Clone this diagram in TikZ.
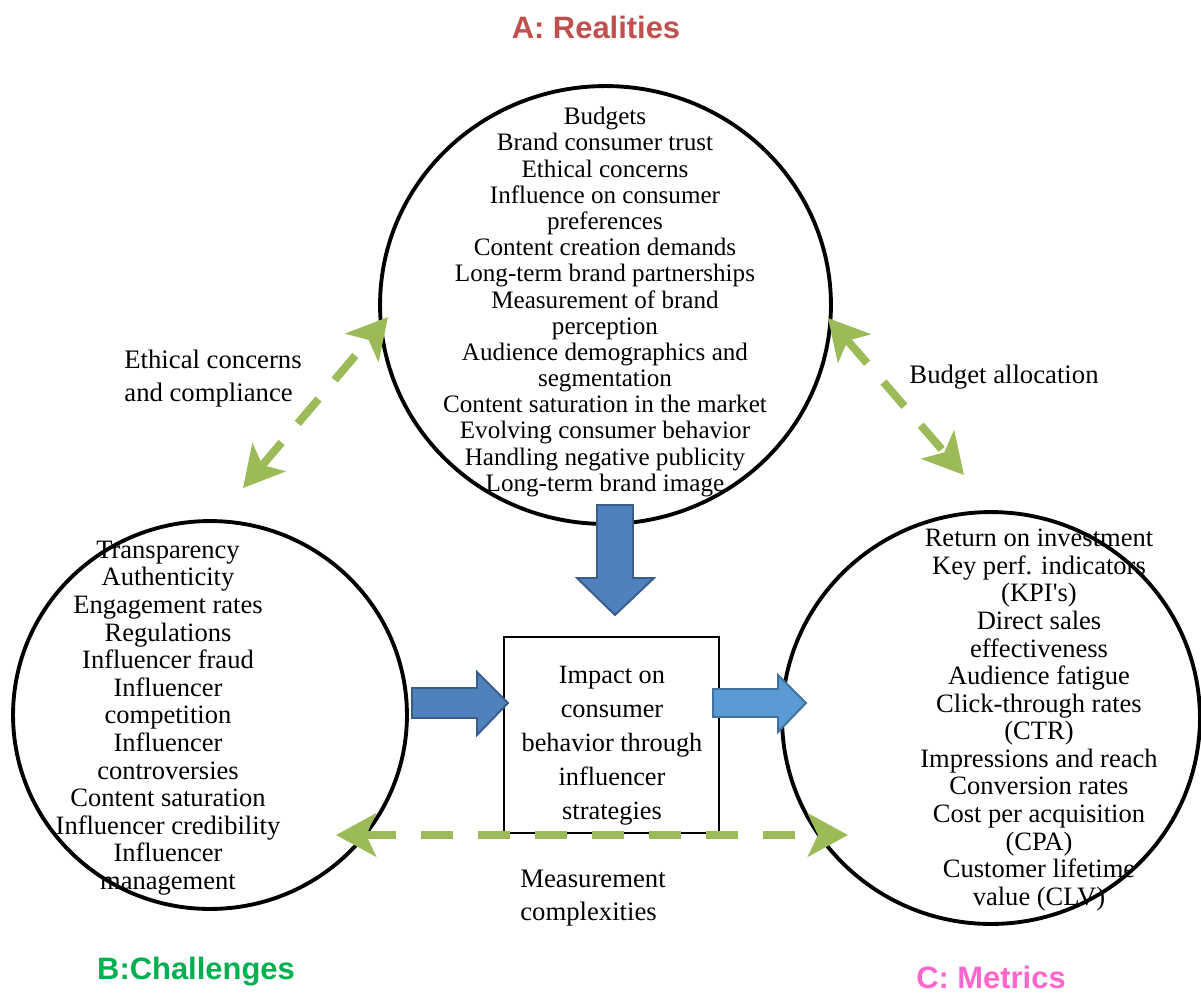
\documentclass[tikz,border=0pt]{standalone}
\usepackage{fontspec}
\setmainfont{Liberation Serif}
\newfontfamily\headfont{Liberation Sans}
\usetikzlibrary{shapes.geometric,arrows.meta}
\definecolor{realred}{HTML}{C0504D}
\definecolor{challgreen}{HTML}{00B050}
\definecolor{metricpink}{HTML}{FF66CC}
\definecolor{linkgreen}{HTML}{9BBB59}
\definecolor{darkblue}{HTML}{4F81BD}
\definecolor{darkblueline}{HTML}{385D8A}
\definecolor{lightblue}{HTML}{5B9BD5}
\definecolor{lightblueline}{HTML}{41719C}
\tikzset{
  ring/.style={ellipse, draw, line width=2.2pt, inner sep=0pt},
  itemsA/.style={align=center, inner sep=0pt, font=\fontsize{14.3}{14.9}\selectfont},
  itemsBC/.style={align=center, inner sep=0pt, font=\fontsize{15.1}{15.7}\selectfont},
  linklabel/.style={align=left, inner sep=0pt, font=\fontsize{15.2}{18.8}\selectfont},
  heading/.style={inner sep=0pt, font=\headfont\bfseries\fontsize{17.6}{20}\selectfont},
  greenlink/.style={draw=linkgreen, line width=0.16cm, dash pattern=on 0.64cm off 0.5cm,
    >={Stealth[length=0.8cm, width=0.86cm, inset=0.2cm]}, <->},
  blockdark/.style={fill=darkblue, draw=darkblueline, line width=1.1pt, line join=miter},
  blocklight/.style={fill=lightblue, draw=lightblueline, line width=1.1pt, line join=miter}
}
\begin{document}
\begin{tikzpicture}[x=0.02cm, y=-0.02cm]
\useasboundingbox (0,0) rectangle (1201,992);
% circles
\node[ring, minimum width=9.02cm, minimum height=8.76cm] (realA) at (605.5,305){};
\node[ring, minimum width=7.88cm, minimum height=7.76cm] (challB) at (210,715){};
\node[ring, minimum width=8.36cm, minimum height=8.24cm] (metricC) at (991,718){};
\node[draw, line width=1.1pt, minimum width=4.3cm, minimum height=3.92cm] (impact) at (611.5,735){};
% circle contents
\node[itemsA] (realtxt) at (605,302){Budgets\\Brand consumer trust\\Ethical concerns\\Influence on consumer\\preferences\\Content creation demands\\Long-term brand partnerships\\Measurement of brand\\perception\\Audience demographics and\\segmentation\\Content saturation in the market\\Evolving consumer behavior\\Handling negative publicity\\Long-term brand image};
\node[itemsBC] (challtxt) at (168,718){Transparency\\Authenticity\\Engagement rates\\Regulations\\Influencer fraud\\Influencer\\competition\\Influencer\\controversies\\Content saturation\\Influencer credibility\\Influencer\\management};
\node[itemsBC] (metrictxt) at (1039,720){Return on investment\\Key perf. indicators\\(KPI\textquotesingle s)\\Direct sales\\effectiveness\\Audience fatigue\\Click-through rates\\(CTR)\\Impressions and reach\\Conversion rates\\Cost per acquisition\\(CPA)\\Customer lifetime\\value (CLV)};
\node[align=center, inner sep=0pt, font=\fontsize{15}{19.3}\selectfont] (impacttxt) at (612,746){Impact on\\consumer\\behavior through\\influencer\\strategies};
% block arrows
\draw[blockdark] (597,505) -- (633,505) -- (633,578) -- (654,578) -- (615,615) -- (577,578) -- (597,578) -- cycle;
\draw[blockdark] (412,688) -- (477,688) -- (477,672) -- (508,703) -- (477,735) -- (477,718) -- (412,718) -- cycle;
\draw[blocklight] (713,689) -- (778,689) -- (778,675) -- (806,703) -- (778,732) -- (778,717) -- (713,717) -- cycle;
% green links
\coordinate (ethB) at (243,488);
\coordinate (ethA) at (388,317);
\coordinate (budA) at (828,318);
\coordinate (budC) at (964,475);
\coordinate (measB) at (336,835);
\coordinate (measC) at (848,835);
\draw[greenlink] (ethB) -- (ethA);
\draw[greenlink] (budA) -- (budC);
\draw[greenlink] (measB) -- (measC);
\node[linklabel] (ethlbl) at (213,379){Ethical concerns\\and compliance};
\node[linklabel] (budlbl) at (1004,377){Budget allocation};
\node[linklabel] (measlbl) at (593,898){Measurement\\complexities};
% headings
\node[heading, text=realred] (headA) at (596,27){A: Realities};
\node[heading, text=challgreen] (headB) at (196,972){B:Challenges};
\node[heading, text=metricpink] (headC) at (991,977){C: Metrics};
\end{tikzpicture}
\end{document}
